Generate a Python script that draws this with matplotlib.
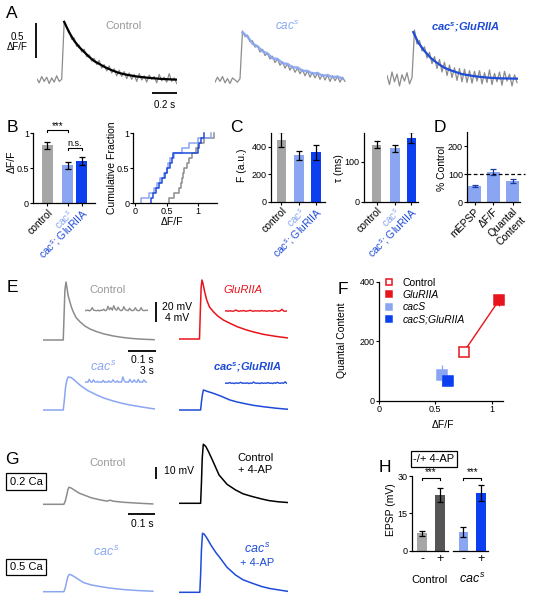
import numpy as np
import matplotlib
matplotlib.use('Agg')
import matplotlib.pyplot as plt

plt.rcParams['font.family'] = ['Liberation Sans', 'DejaVu Sans']
plt.rcParams['mathtext.fontset'] = 'custom'
plt.rcParams['mathtext.rm'] = 'Liberation Sans'
plt.rcParams['mathtext.it'] = 'Liberation Sans:italic'
plt.rcParams['mathtext.bf'] = 'Liberation Sans:bold'
plt.rcParams['mathtext.bfit'] = 'Liberation Sans:italic:bold'

W, H = 533, 600

# colours
GRAY_T = '#8c8c8c'
GRAY_TXT = '#999999'
GRAY_BAR = '#a6a6a6'
DGRAY = '#555555'
LBLUE = '#8aa6f2'
BLUE = '#0c3ff0'
BLUE_T = '#1e4bd8'
RED = '#e8141c'

# ---------------- data ----------------
# A: Ca imaging traces (dF/F), one sample every 20 ms
a_ctrl = [0.02, -0.04, 0.05, -0.02, 0.04, -0.05, 0.03, -0.03, 0.06, -0.02, 0.01,
          0.84, 0.74, 0.70, 0.58, 0.60, 0.48, 0.50, 0.40, 0.44, 0.33, 0.36, 0.27,
          0.31, 0.22, 0.28, 0.17, 0.22, 0.13, 0.20, 0.10, 0.16, 0.06, 0.14, 0.05,
          0.12, 0.02, 0.10, 0.01, 0.08, -0.02, 0.09, 0.00, 0.06, -0.03, 0.07, 0.01,
          0.05, -0.04, 0.08, -0.01, 0.04, -0.03, 0.09, -0.02, 0.03, -0.05]
a_ctrl_fit_t = [0.22, 0.26, 0.30, 0.34, 0.38, 0.42, 0.46, 0.50, 0.55, 0.60, 0.66,
                0.72, 0.80, 0.90, 1.00, 1.12]
a_ctrl_fit = [0.83, 0.68, 0.56, 0.47, 0.40, 0.33, 0.27, 0.23, 0.18, 0.14, 0.10,
              0.075, 0.05, 0.03, 0.015, 0.005]

a_cac = [-0.03, 0.04, -0.02, 0.05, -0.04, 0.02, -0.05, 0.03, 0.00, -0.03, 0.02,
         0.70, 0.62, 0.64, 0.55, 0.56, 0.47, 0.49, 0.40, 0.44, 0.35, 0.38, 0.30,
         0.34, 0.25, 0.30, 0.21, 0.26, 0.17, 0.23, 0.14, 0.20, 0.11, 0.17, 0.09,
         0.15, 0.06, 0.13, 0.04, 0.11, 0.03, 0.10, 0.01, 0.08, 0.00, 0.07, -0.02,
         0.06, -0.01, 0.05, -0.03, 0.04, -0.02]
a_cac_fit_t = [0.22, 0.26, 0.30, 0.34, 0.38, 0.42, 0.46, 0.50, 0.54, 0.58, 0.62,
               0.66, 0.70, 0.74, 0.78, 0.82, 0.86, 0.90, 0.94, 0.98, 1.02]
a_cac_fit = [0.68, 0.62, 0.52, 0.48, 0.41, 0.38, 0.31, 0.30, 0.24, 0.23, 0.18,
             0.18, 0.13, 0.13, 0.09, 0.10, 0.06, 0.07, 0.04, 0.05, 0.02]

a_cacglu = [0.05, -0.08, 0.10, -0.04, 0.07, -0.10, 0.06, -0.03, 0.09, -0.07, 0.02,
            0.70, 0.50, 0.55, 0.40, 0.46, 0.30, 0.38, 0.22, 0.32, 0.15, 0.28, 0.10,
            0.24, 0.05, 0.20, 0.02, 0.16, -0.02, 0.15, -0.04, 0.14, -0.05, 0.12,
            -0.06, 0.11, -0.03, 0.12, -0.07, 0.09, -0.05, 0.13, -0.08, 0.08, -0.04,
            0.10, -0.09, 0.11, -0.03, 0.07, -0.10, 0.06, -0.05]
a_cacglu_fit_t = [0.21, 0.25, 0.30, 0.35, 0.40, 0.45, 0.50, 0.55, 0.60, 0.70, 0.80,
                  0.90, 1.04]
a_cacglu_fit = [0.67, 0.52, 0.40, 0.30, 0.23, 0.17, 0.13, 0.10, 0.07, 0.04, 0.02,
                0.01, 0.005]

# B: mean dF/F and cumulative distributions
geno_labels = ['control', 'cac$^{s}$', 'cac$^{s}$; GluRIIA']
b_mean = [0.83, 0.54, 0.60]
b_err = [0.05, 0.05, 0.06]
cdf_ctrl = [0.53, 0.62, 0.70, 0.73, 0.74, 0.76, 0.78, 0.82, 0.86, 0.90, 0.96, 1.0, 1.1, 1.25]
cdf_cac = [0.10, 0.22, 0.30, 0.35, 0.40, 0.45, 0.50, 0.52, 0.56, 0.62, 0.75, 0.85, 1.0, 1.2]
cdf_cacglu = [0.25, 0.28, 0.33, 0.38, 0.42, 0.47, 0.50, 0.55, 0.58, 0.60, 1.0, 1.02, 1.05, 1.1]

# C: baseline fluorescence and decay tau
c_f_mean = [449, 335, 359]
c_f_err = [55, 36, 55]
c_tau_mean = [142, 133, 160]
c_tau_err = [9, 9, 14]

# D: % of control
d_labels = ['mEPSP', 'ΔF/F', 'Quantal\nContent']
d_mean = [58, 108, 76]
d_err = [2, 11, 8]

# E: EPSP traces (mV) and minis (mV)
e_ctrl_t = [0, 0.072, 0.075, 0.078, 0.082, 0.086, 0.09, 0.096, 0.102, 0.108, 0.118,
            0.132, 0.15, 0.17, 0.193, 0.22, 0.253, 0.28, 0.313, 0.35, 0.40]
e_ctrl = [0, 0, 25, 50, 58, 51, 44, 38, 32.5, 28.3, 22.5, 18.3, 14, 10.8, 8.3, 6, 4,
          2.8, 1.7, 0.9, 0.3]
e_glu_t = [0, 0.074, 0.077, 0.08, 0.083, 0.087, 0.092, 0.1, 0.11, 0.124, 0.14, 0.16,
           0.184, 0.21, 0.244, 0.27, 0.304, 0.35, 0.395]
e_glu = [0, 0, 28, 52, 59, 55, 48, 39, 32, 27.3, 23, 19, 15.7, 12.3, 9, 7, 4.7, 2.6, 1]
e_cac_t = [0, 0.072, 0.076, 0.08, 0.085, 0.09, 0.1, 0.11, 0.12, 0.132, 0.16, 0.193,
           0.22, 0.253, 0.28, 0.313, 0.36, 0.403]
e_cac = [0, 0, 10, 22, 30, 33, 32.5, 30.5, 28, 25, 19.5, 15, 11.8, 9, 7, 5, 2.8, 1]
e_cacglu_t = [0, 0.078, 0.081, 0.085, 0.088, 0.094, 0.1, 0.124, 0.15, 0.184, 0.21,
              0.244, 0.27, 0.304, 0.35, 0.395]
e_cacglu = [0, 0, 8, 16, 20, 19.5, 18.8, 16.7, 14, 10, 8, 6, 4.6, 3.3, 1.8, 0.7]

e_mini_ctrl = [0.1, 0.0, 0.15, -0.05, 0.1, 0.6, 0.1, 0.05, 0.0, 0.1, -0.05, 0.1, 0.05,
               0.3, 0.0, 0.1, 0.9, 0.2, 0.6, 0.1, 1.0, 0.3, 0.1, 0.7, 0.2, 0.0, 0.1,
               0.8, 0.2, 0.1, 0.0, 0.5, 0.1, 0.0, 0.1, 0.6, 0.1, 0.0, 0.05, 0.6, 0.1,
               0.0, 0.1, 0.05, 0.1]
e_mini_glu = [0.0, 0.05, -0.05, 0.05, 0.0, -0.05, 0.05, 0.2, 0.0, -0.05, 0.05, 0.0,
              0.1, -0.05, 0.0, 0.05, 0.15, 0.0, -0.05, 0.05, 0.0, 0.05, -0.05, 0.1,
              0.0, 0.05, -0.05, 0.0, 0.05, 0.0, -0.05, 0.05, 0.1, 0.0, -0.05, 0.05,
              0.35, 0.0, -0.05, 0.0]
e_mini_cac = [0.0, 0.1, 0.0, 0.6, 0.1, 0.0, 0.5, 0.1, 0.0, 0.2, 0.0, 0.1, 0.0, 0.4,
              0.0, 0.1, 0.0, 0.3, 0.0, 0.1, 0.5, 0.1, 0.0, 0.3, 0.0, 0.1, 0.0, 1.1,
              0.3, 0.0, 0.1, 0.0, 0.6, 0.1, 0.0, 0.5, 0.1, 0.0, 0.6, 0.0, 0.1, 0.0,
              0.5, 0.1, 0.0]
e_mini_cacglu = [0.0, 0.05, 0.0, 0.15, 0.0, 0.05, -0.05, 0.1, 0.0, 0.05, 0.2, 0.0,
                 0.05, 0.0, 0.1, -0.05, 0.05, 0.0, 0.25, 0.05, 0.0, 0.05, -0.05, 0.1,
                 0.0, 0.05, 0.0, 0.15, 0.0, 0.05, -0.05, 0.1, 0.0, 0.2, 0.05, 0.0,
                 0.1, 0.0, 0.3, 0.0]

# F: quantal content vs dF/F
f_names = ['Control', 'GluRIIA', 'cacS', 'cacS;GluRIIA']
f_x = [0.754, 1.065, 0.562, 0.615]
f_y = [165, 338, 86, 66]
f_xerr = [0.015, 0.04, 0.025, 0.045]
f_yerr = [8, 20, 35, 8]

# G: EPSPs -/+ 4-AP (mV)
g_ctrl_t = [0, 0.077, 0.082, 0.087, 0.092, 0.096, 0.105, 0.12, 0.135, 0.152, 0.18,
            0.215, 0.24, 0.248, 0.254, 0.262, 0.3, 0.35, 0.41]
g_ctrl = [0, 0, 2.5, 7, 12, 14.2, 13.5, 11.3, 9.2, 7.8, 5.4, 3.6, 2.6, 3.4, 3.2, 2.6,
          1.7, 1.0, 0.3]
g_ctrl_ap_t = [0, 0.081, 0.084, 0.087, 0.091, 0.1, 0.11, 0.125, 0.15, 0.18, 0.212,
               0.24, 0.275, 0.31, 0.337, 0.37, 0.41]
g_ctrl_ap = [0, 0, 16.7, 37.5, 49.2, 47.5, 43.3, 36.1, 23.6, 15.8, 11.1, 7.9, 5.6, 3.6,
             2.25, 1.3, 0.6]
g_cac_t = [0, 0.077, 0.082, 0.087, 0.092, 0.097, 0.105, 0.12, 0.135, 0.152, 0.18,
           0.215, 0.25, 0.3, 0.35, 0.41]
g_cac = [0, 0, 3, 8, 12.5, 14.4, 14, 12, 9.8, 7.5, 5.6, 4.2, 3, 1.8, 1.0, 0.4]
g_cac_ap_t = [0, 0.078, 0.081, 0.084, 0.088, 0.095, 0.105, 0.12, 0.14, 0.15, 0.18,
              0.212, 0.24, 0.275, 0.31, 0.337, 0.37, 0.41]
g_cac_ap = [0, 0, 15, 35, 49.2, 48.3, 45, 39.2, 32.5, 29.8, 20.8, 14.4, 10.4, 7.5, 4.8,
            3.3, 2.1, 0.7]

# H: EPSP amplitude -/+ 4-AP
h_ticks = ['-', '+', '-', '+']
h_mean = [7.0, 22.4, 7.6, 23.3]
h_err = [1.0, 2.8, 1.9, 3.2]

# ---------------- figure ----------------
fig = plt.figure(figsize=(W / 100, H / 100), dpi=100)
NARROW = ['Liberation Sans Narrow', 'Liberation Sans']


def rect(x0, y0, x1, y1):
    return [x0 / W, 1 - y1 / H, (x1 - x0) / W, (y1 - y0) / H]


def trace_ax(x0, x1, top, bottom, base, tscale, yscale):
    ax = fig.add_axes(rect(x0, top, x1, bottom))
    ax.set_xlim(0, (x1 - x0) / tscale)
    ax.set_ylim(-(bottom - base) / yscale, (base - top) / yscale)
    ax.axis('off')
    return ax


def bar_ax(x0, x1, top, bottom, xlim, ylim):
    ax = fig.add_axes(rect(x0, top, x1, bottom))
    ax.set_xlim(*xlim)
    ax.set_ylim(*ylim)
    ax.spines[['top', 'right']].set_visible(False)
    ax.spines[['left', 'bottom']].set_linewidth(0.9)
    ax.tick_params(labelsize=6.5, length=2, width=0.8, pad=1)
    return ax


def narrow_y(ax, ticks, labels=None):
    ax.set_yticks(ticks, labels if labels else [str(t) for t in ticks])
    for lab in ax.get_yticklabels():
        lab.set_family(NARROW)


def geno_bars(ax, pos, mean, err):
    ax.bar(pos, mean, width=1, color=[GRAY_BAR, LBLUE, BLUE])
    ax.errorbar(pos, mean, yerr=err, fmt='none', ecolor='black', elinewidth=0.9,
                capsize=2, capthick=0.9)
    ax.set_xticks(pos, geno_labels, rotation=45, ha='right', rotation_mode='anchor',
                  fontsize=7.5)
    for lab, c in zip(ax.get_xticklabels(), ['black', LBLUE, BLUE_T]):
        lab.set_color(c)


ov = fig.add_axes([0, 0, 1, 1], zorder=10)
ov.set_xlim(0, W)
ov.set_ylim(H, 0)
ov.axis('off')


def txt(x, y, s, **kw):
    kw.setdefault('fontsize', 7.5)
    kw.setdefault('ha', 'center')
    kw.setdefault('va', 'center')
    ov.text(x, y, s, **kw)


def bar_line(xs, ys):
    ov.plot(xs, ys, color='black', lw=1.3, solid_capstyle='butt')


# panel letters
for letter, x, y in [('A', 12, 14), ('B', 12, 128), ('C', 236, 127), ('D', 440, 128),
                     ('E', 12, 288), ('F', 343, 290), ('G', 12, 459), ('H', 385, 467)]:
    txt(x, y, letter, fontsize=12.5)

# ---- A ----
ax = trace_ax(36.7, 176.7, 12, 95, 80, 125, 70)
ax.plot(np.linspace(0, 1.12, len(a_ctrl)), a_ctrl, color=GRAY_T, lw=0.9)
ax.plot(a_ctrl_fit_t, a_ctrl_fit, color='black', lw=1.6)
ax = trace_ax(215, 347, 12, 95, 80, 125, 70)
ax.plot(np.linspace(0, 1.04, len(a_cac)), a_cac, color=GRAY_T, lw=0.9)
ax.plot(a_cac_fit_t, a_cac_fit, color=LBLUE, lw=1.8, alpha=0.9)
ax = trace_ax(387, 518, 12, 95, 79, 125, 70)
ax.plot(np.linspace(0, 1.04, len(a_cacglu)), a_cacglu, color=GRAY_T, lw=0.9)
ax.plot(a_cacglu_fit_t, a_cacglu_fit, color=BLUE_T, lw=1.6)

bar_line([35.7, 35.7], [23.3, 58.3])
bar_line([151.7, 176.7], [92.7, 92.7])
txt(17, 37.5, '0.5', fontsize=7)
txt(17, 47.5, 'ΔF/F', fontsize=7)
txt(165, 105, '0.2 s', fontsize=7)
txt(123, 26, 'Control', color=GRAY_TXT, fontsize=8)
txt(287, 26, r'$\mathit{cac^{s}}$', color=LBLUE, fontsize=8.5)
txt(465, 27, r'cac$^{\mathbfit{s}}$;GluRIIA', color=BLUE_T, fontsize=8,
    style='italic', weight='bold')

# ---- B ----
b_pos = [0, 1.8, 3.05]
ax = bar_ax(33, 95, 133.3, 203.3, (-1.27, 4.23), (0, 1))
geno_bars(ax, b_pos, b_mean, b_err)
narrow_y(ax, [0, 0.5, 1], ['0', '0.5', '1'])
ax.plot([0, 0, 1.8, 1.8], [1.02, 1.05, 1.05, 1.02], color='black', lw=0.8, clip_on=False)
ax.text(0.9, 1.1, '***', ha='center', va='center', fontsize=7)
ax.plot([1.8, 1.8, 3.05, 3.05], [0.76, 0.79, 0.79, 0.76], color='black', lw=0.8,
        clip_on=False)
ax.text(2.42, 0.86, 'n.s.', ha='center', va='center', fontsize=6.5)
txt(12, 161.7, 'ΔF/F', rotation=90)

ax = bar_ax(133.3, 217, 133.3, 203.3, (-0.03, 1.3), (0, 1))
for vals, c in [(cdf_ctrl, GRAY_T), (cdf_cac, LBLUE), (cdf_cacglu, BLUE_T)]:
    xs = np.sort(vals)
    ys = np.arange(1, len(xs) + 1) / len(xs)
    ax.step(np.r_[xs[0], xs], np.r_[0, ys], where='post', color=c, lw=1.1,
            clip_on=False)
ax.set_xticks([0, 0.5, 1], ['0', '0.5', '1'])
narrow_y(ax, [0, 0.5, 1], ['0', '0.5', '1'])
txt(112, 168, 'Cumulative Fraction', rotation=90)
txt(172, 222, 'ΔF/F')

# ---- C ----
ax = bar_ax(270.7, 325, 132.7, 201.7, (-1.12, 4.59), (0, 500))
geno_bars(ax, [0, 1.88, 3.63], c_f_mean, c_f_err)
narrow_y(ax, [0, 200, 400])
txt(242, 165, 'F (a.u.)', rotation=90)

ax = bar_ax(363.5, 417.5, 132.7, 201.7, (-1.38, 4.35), (0, 172))
geno_bars(ax, [0, 1.94, 3.69], c_tau_mean, c_tau_err)
narrow_y(ax, [0, 100])
txt(338.5, 168, 'τ (ms)', rotation=90)

# ---- D ----
ax = bar_ax(467, 520, 132, 202.3, (-0.6, 3.64), (0, 250))
d_pos = [0, 1.5, 3.04]
ax.bar(d_pos, d_mean, width=1, color=LBLUE)
ax.errorbar(d_pos, d_mean, yerr=d_err, fmt='none', ecolor='#1a3aa0', elinewidth=0.9,
            capsize=2, capthick=0.9)
ax.plot([-0.6, 4.05], [100, 100], color='black', lw=0.9, dashes=(3, 2), clip_on=False)
narrow_y(ax, [0, 100, 200])
ax.set_xticks(d_pos, d_labels, rotation=45, ha='right', rotation_mode='anchor',
              fontsize=7.5)
txt(442, 168, '% Control', rotation=90)

# ---- E ----
ax = trace_ax(43.3, 155, 275, 345, 340, 277, 1)
ax.plot(e_ctrl_t, e_ctrl, color=GRAY_T, lw=1.1)
ax = trace_ax(179, 288.3, 275, 345, 339, 277, 1)
ax.plot(e_glu_t, e_glu, color=RED, lw=1.1)
ax = trace_ax(43.3, 155, 370, 415, 410, 277, 1)
ax.plot(e_cac_t, e_cac, color=LBLUE, lw=1.1)
ax = trace_ax(179, 288.3, 370, 415, 410, 277, 1)
ax.plot(e_cacglu_t, e_cacglu, color=BLUE_T, lw=1.1)

for vals, x0, x1, base, c in [(e_mini_ctrl, 85, 148.3, 310.7, GRAY_T),
                              (e_mini_glu, 225, 286.7, 311, RED),
                              (e_mini_cac, 85, 146.7, 382.3, LBLUE),
                              (e_mini_cacglu, 225, 286.7, 383.3, BLUE_T)]:
    ax = trace_ax(x0, x1, base - 12, base + 6, base, 9.23, 5)
    ax.plot(np.linspace(0, (x1 - x0) / 9.23, len(vals)), vals, color=c, lw=1.0)

bar_line([156, 156], [301.7, 321.7])
bar_line([128.3, 156], [351, 351])
txt(177.5, 306.7, '20 mV')
txt(177.5, 318.3, '4 mV')
txt(154, 360, '0.1 s', ha='right')
txt(154, 371, '3 s', ha='right')
txt(108, 290, 'Control', color=GRAY_TXT, fontsize=8)
txt(243, 290, 'GluRIIA', color=RED, fontsize=8, style='italic')
txt(103, 367, r'$\mathit{cac^{s}}$', color=LBLUE, fontsize=9)
txt(247, 367, r'cac$^{\mathbfit{s}}$;GluRIIA', color=BLUE_T, fontsize=8,
    style='italic', weight='bold')

# ---- F ----
ax = bar_ax(379, 503, 281.7, 400.7, (0, 1.1), (0, 400))
ax.plot(f_x[:2], f_y[:2], color=RED, lw=1.0, zorder=1)
f_face = ['white', RED, LBLUE, BLUE]
f_edge = [RED, RED, LBLUE, BLUE]
for i in range(4):
    ax.errorbar(f_x[i], f_y[i], xerr=f_xerr[i], yerr=f_yerr[i], fmt='none',
                ecolor=f_edge[i], elinewidth=0.9, capsize=0, clip_on=False, zorder=2)
    ax.plot(f_x[i], f_y[i], 's', ms=6.5, mfc=f_face[i], mec=f_edge[i], mew=1.1,
            clip_on=False, zorder=3)
ax.set_xticks([0, 0.5, 1], ['0', '0.5', '1'])
narrow_y(ax, [0, 200, 400])
leg = ax.legend(handles=[plt.Line2D([], [], ls='none', marker='s', ms=5, mfc=f_face[i],
                                    mec=f_edge[i], mew=1.1) for i in range(4)],
                labels=f_names, loc='upper left', bbox_to_anchor=(385 / W, 1 - 278 / H),
                bbox_transform=fig.transFigure, frameon=False, fontsize=7.5,
                handlelength=0.8, handletextpad=0.9, labelspacing=0.2, borderpad=0,
                borderaxespad=0)
for t in leg.get_texts()[1:]:
    t.set_style('italic')
txt(342, 340, 'Quantal Content', rotation=90)
txt(443, 425, 'ΔF/F')

# ---- G ----
ax = trace_ax(43.3, 155, 440, 510, 504.3, 267, 1.2)
ax.plot(g_ctrl_t, g_ctrl, color=GRAY_T, lw=1.1)
ax = trace_ax(179, 288.3, 440, 510, 503.3, 267, 1.2)
ax.plot(g_ctrl_ap_t, g_ctrl_ap, color='black', lw=1.1)
ax = trace_ax(43.3, 155, 525, 597, 591.7, 267, 1.2)
ax.plot(g_cac_t, g_cac, color=LBLUE, lw=1.1)
ax = trace_ax(179, 288.3, 525, 597, 592.3, 267, 1.2)
ax.plot(g_cac_ap_t, g_cac_ap, color=BLUE_T, lw=1.1)

bar_line([155.5, 155.5], [466.7, 478.7])
bar_line([128.3, 155], [514, 514])
txt(164, 471, '10 mV', ha='left')
txt(142, 524, '0.1 s')
txt(108, 463, 'Control', color=GRAY_TXT, fontsize=8)
txt(255, 458, 'Control', fontsize=8)
txt(255, 470, '+ 4-AP', fontsize=8)
txt(106, 552, r'$\mathit{cac^{s}}$', color=LBLUE, fontsize=9)
txt(257, 549, r'$\mathit{cac^{s}}$', color=BLUE_T, fontsize=9)
txt(257, 563, '+ 4-AP', color=BLUE_T, fontsize=8)
box = dict(boxstyle='square,pad=0.3', fc='white', ec='black', lw=0.9)
txt(26, 481.7, '0.2 Ca', fontsize=8, bbox=box)
txt(26, 567, '0.5 Ca', fontsize=8, bbox=box)

# ---- H ----
ax = bar_ax(411.5, 488, 476, 550.7, (-1.11, 6.94), (0, 30))
h_pos = [0, 1.9, 4.35, 6.2]
ax.bar(h_pos, h_mean, width=1, color=[GRAY_BAR, DGRAY, LBLUE, BLUE])
ax.errorbar(h_pos, h_mean, yerr=h_err, fmt='none', ecolor='black', elinewidth=0.9,
            capsize=2, capthick=0.9)
ax.spines['bottom'].set_visible(False)
ax.plot([-1.11, 2.76], [0, 0], color='black', lw=0.9, clip_on=False)
ax.plot([3.29, 6.94], [0, 0], color='black', lw=0.9, clip_on=False)
ax.set_xticks(h_pos, h_ticks, fontsize=9)
ax.tick_params(axis='x', length=0, pad=2)
narrow_y(ax, [0, 15, 30])
for a, b in [(0, 1.9), (4.35, 6.2)]:
    ax.plot([a, a, b, b], [28.3, 29.1, 29.1, 28.3], color='black', lw=0.8, clip_on=False)
    ax.text((a + b) / 2, 31.6, '***', ha='center', va='center', fontsize=7)
txt(391, 510, 'EPSP (mV)', rotation=90)
txt(429, 580, 'Control', fontsize=8)
txt(472, 579, r'$\mathit{cac^{s}}$', fontsize=9)
txt(434, 459, '-/+ 4-AP', fontsize=8,
    bbox=dict(boxstyle='square,pad=0.25', fc='white', ec='black', lw=0.9))

fig.savefig('out.png', dpi=100)
